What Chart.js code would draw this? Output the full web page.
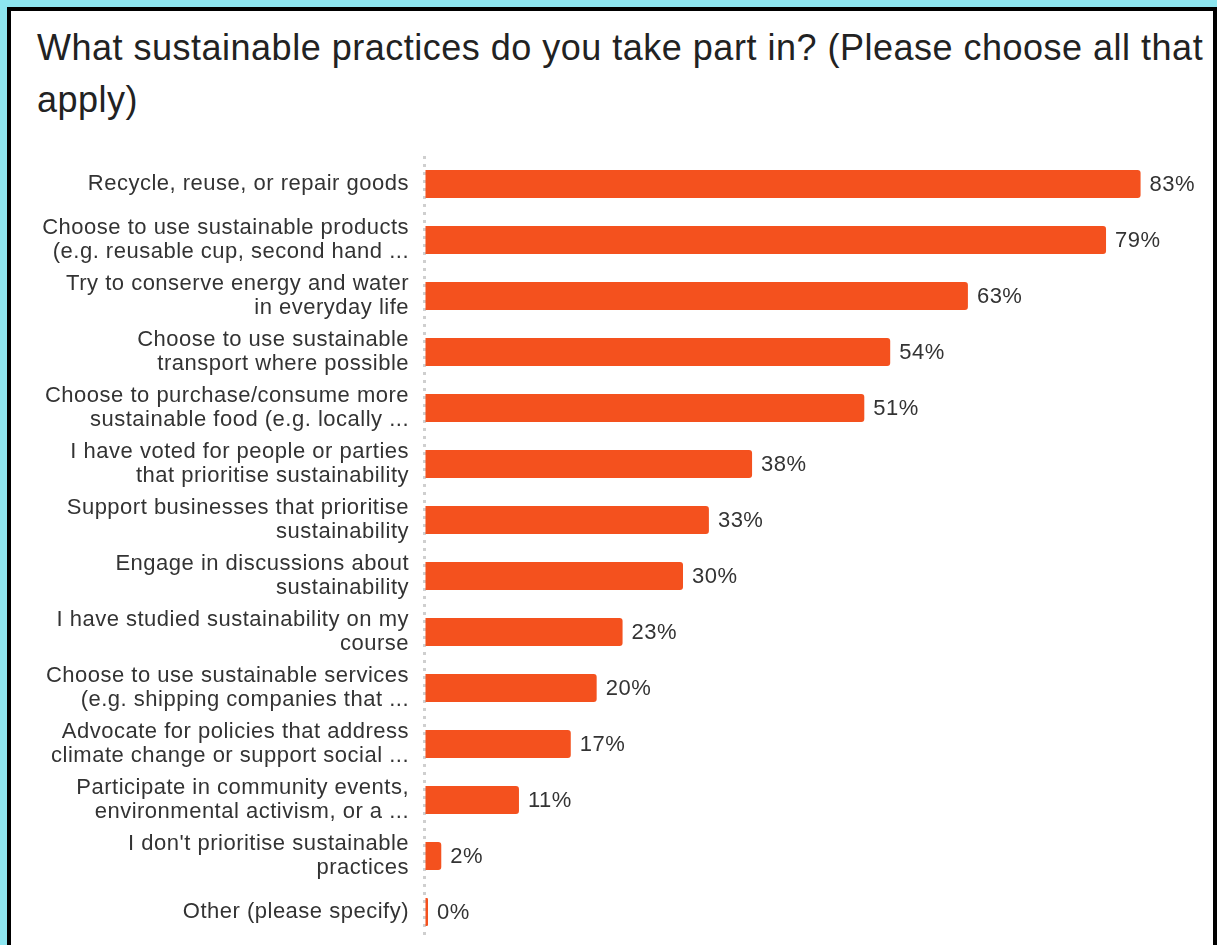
<!DOCTYPE html>
<html>
<head>
<meta charset="utf-8">
<script src="https://cdn.jsdelivr.net/npm/chart.js@4"></script>
<style>
  html, body { margin: 0; padding: 0; }
  body {
    width: 1217px;
    height: 945px;
    overflow: hidden;
    background: #8de6f0;
    position: relative;
    font-family: "Liberation Sans", Arial, sans-serif;
  }
  .frame {
    position: absolute;
    left: 7px;
    top: 7px;
    width: 1210px;
    height: 1000px;
    box-sizing: border-box;
    border: 4px solid #000;
    background: #fff;
  }
  .title {
    position: absolute;
    left: 37px;
    top: 22px;
    font-size: 36px;
    line-height: 52px;
    letter-spacing: 0.5px;
    color: #222;
    white-space: nowrap;
  }
  #chart {
    position: absolute;
    left: 0;
    top: 0;
  }
</style>
</head>
<body>
<div class="frame"></div>
<div class="title">What sustainable practices do you take part in? (Please choose all that<br>apply)</div>
<canvas id="chart" width="1217" height="1000"></canvas>

<script>
const practices = [
    ['Recycle, reuse, or repair goods'],
    ['Choose to use sustainable products', '(e.g. reusable cup, second hand ...'],
    ['Try to conserve energy and water', 'in everyday life'],
    ['Choose to use sustainable', 'transport where possible'],
    ['Choose to purchase/consume more', 'sustainable food (e.g. locally ...'],
    ['I have voted for people or parties', 'that prioritise sustainability'],
    ['Support businesses that prioritise', 'sustainability'],
    ['Engage in discussions about', 'sustainability'],
    ['I have studied sustainability on my', 'course'],
    ['Choose to use sustainable services', '(e.g. shipping companies that ...'],
    ['Advocate for policies that address', 'climate change or support social ...'],
    ['Participate in community events,', 'environmental activism, or a ...'],
    ["I don't prioritise sustainable", 'practices'],
    ['Other (please specify)']
];

const percentages = [83, 79, 63, 54, 51, 38, 33, 30, 23, 20, 17, 11, 2, 0];

const barColor = '#f4511e';
const textColor = '#333333';
const fontFamily = '"Liberation Sans", Arial, sans-serif';

// text in this chart is set a touch wide
const wideText = {
    id: 'wideText',
    beforeDraw(chart) {
        chart.ctx.letterSpacing = '0.5px';
    }
};

// writes "NN%" just past the end of each bar
const valueLabels = {
    id: 'valueLabels',
    afterDatasetsDraw(chart) {
        const ctx = chart.ctx;
        const meta = chart.getDatasetMeta(0);
        ctx.save();
        ctx.font = '22px ' + fontFamily;
        ctx.fillStyle = textColor;
        ctx.textAlign = 'left';
        ctx.textBaseline = 'middle';
        meta.data.forEach((bar, i) => {
            ctx.fillText(percentages[i] + '%', bar.x + 9, bar.y + 1);
        });
        ctx.restore();
    }
};

new Chart(document.getElementById('chart'), {
    type: 'bar',
    data: {
        labels: practices,
        datasets: [{
            data: percentages,
            backgroundColor: barColor,
            borderRadius: 3,
            borderSkipped: 'start',
            minBarLength: 4,
            barPercentage: 0.5,
            categoryPercentage: 1
        }]
    },
    options: {
        indexAxis: 'y',
        responsive: false,
        animation: false,
        layout: {
            padding: { top: 156, right: 16, bottom: 60, left: 0 }
        },
        plugins: {
            legend: { display: false },
            tooltip: { enabled: false }
        },
        scales: {
            x: {
                min: 0,
                max: 90,
                // only the zero line is shown, as a dotted rule
                grid: {
                    color: (c) => c.tick && c.tick.value === 0 ? '#cfcfcf' : 'rgba(0,0,0,0)',
                    lineWidth: 3,
                    drawTicks: false
                },
                border: { display: false, dash: [3, 5] },
                ticks: { display: false }
            },
            y: {
                grid: { display: false, drawTicks: false },
                border: { display: false },
                ticks: {
                    color: textColor,
                    padding: 15,
                    font: { family: fontFamily, size: 22, lineHeight: 1.09 }
                },
                afterFit(scale) {
                    scale.width = 424;
                }
            }
        }
    },
    plugins: [wideText, valueLabels]
});
</script>
</body>
</html>
